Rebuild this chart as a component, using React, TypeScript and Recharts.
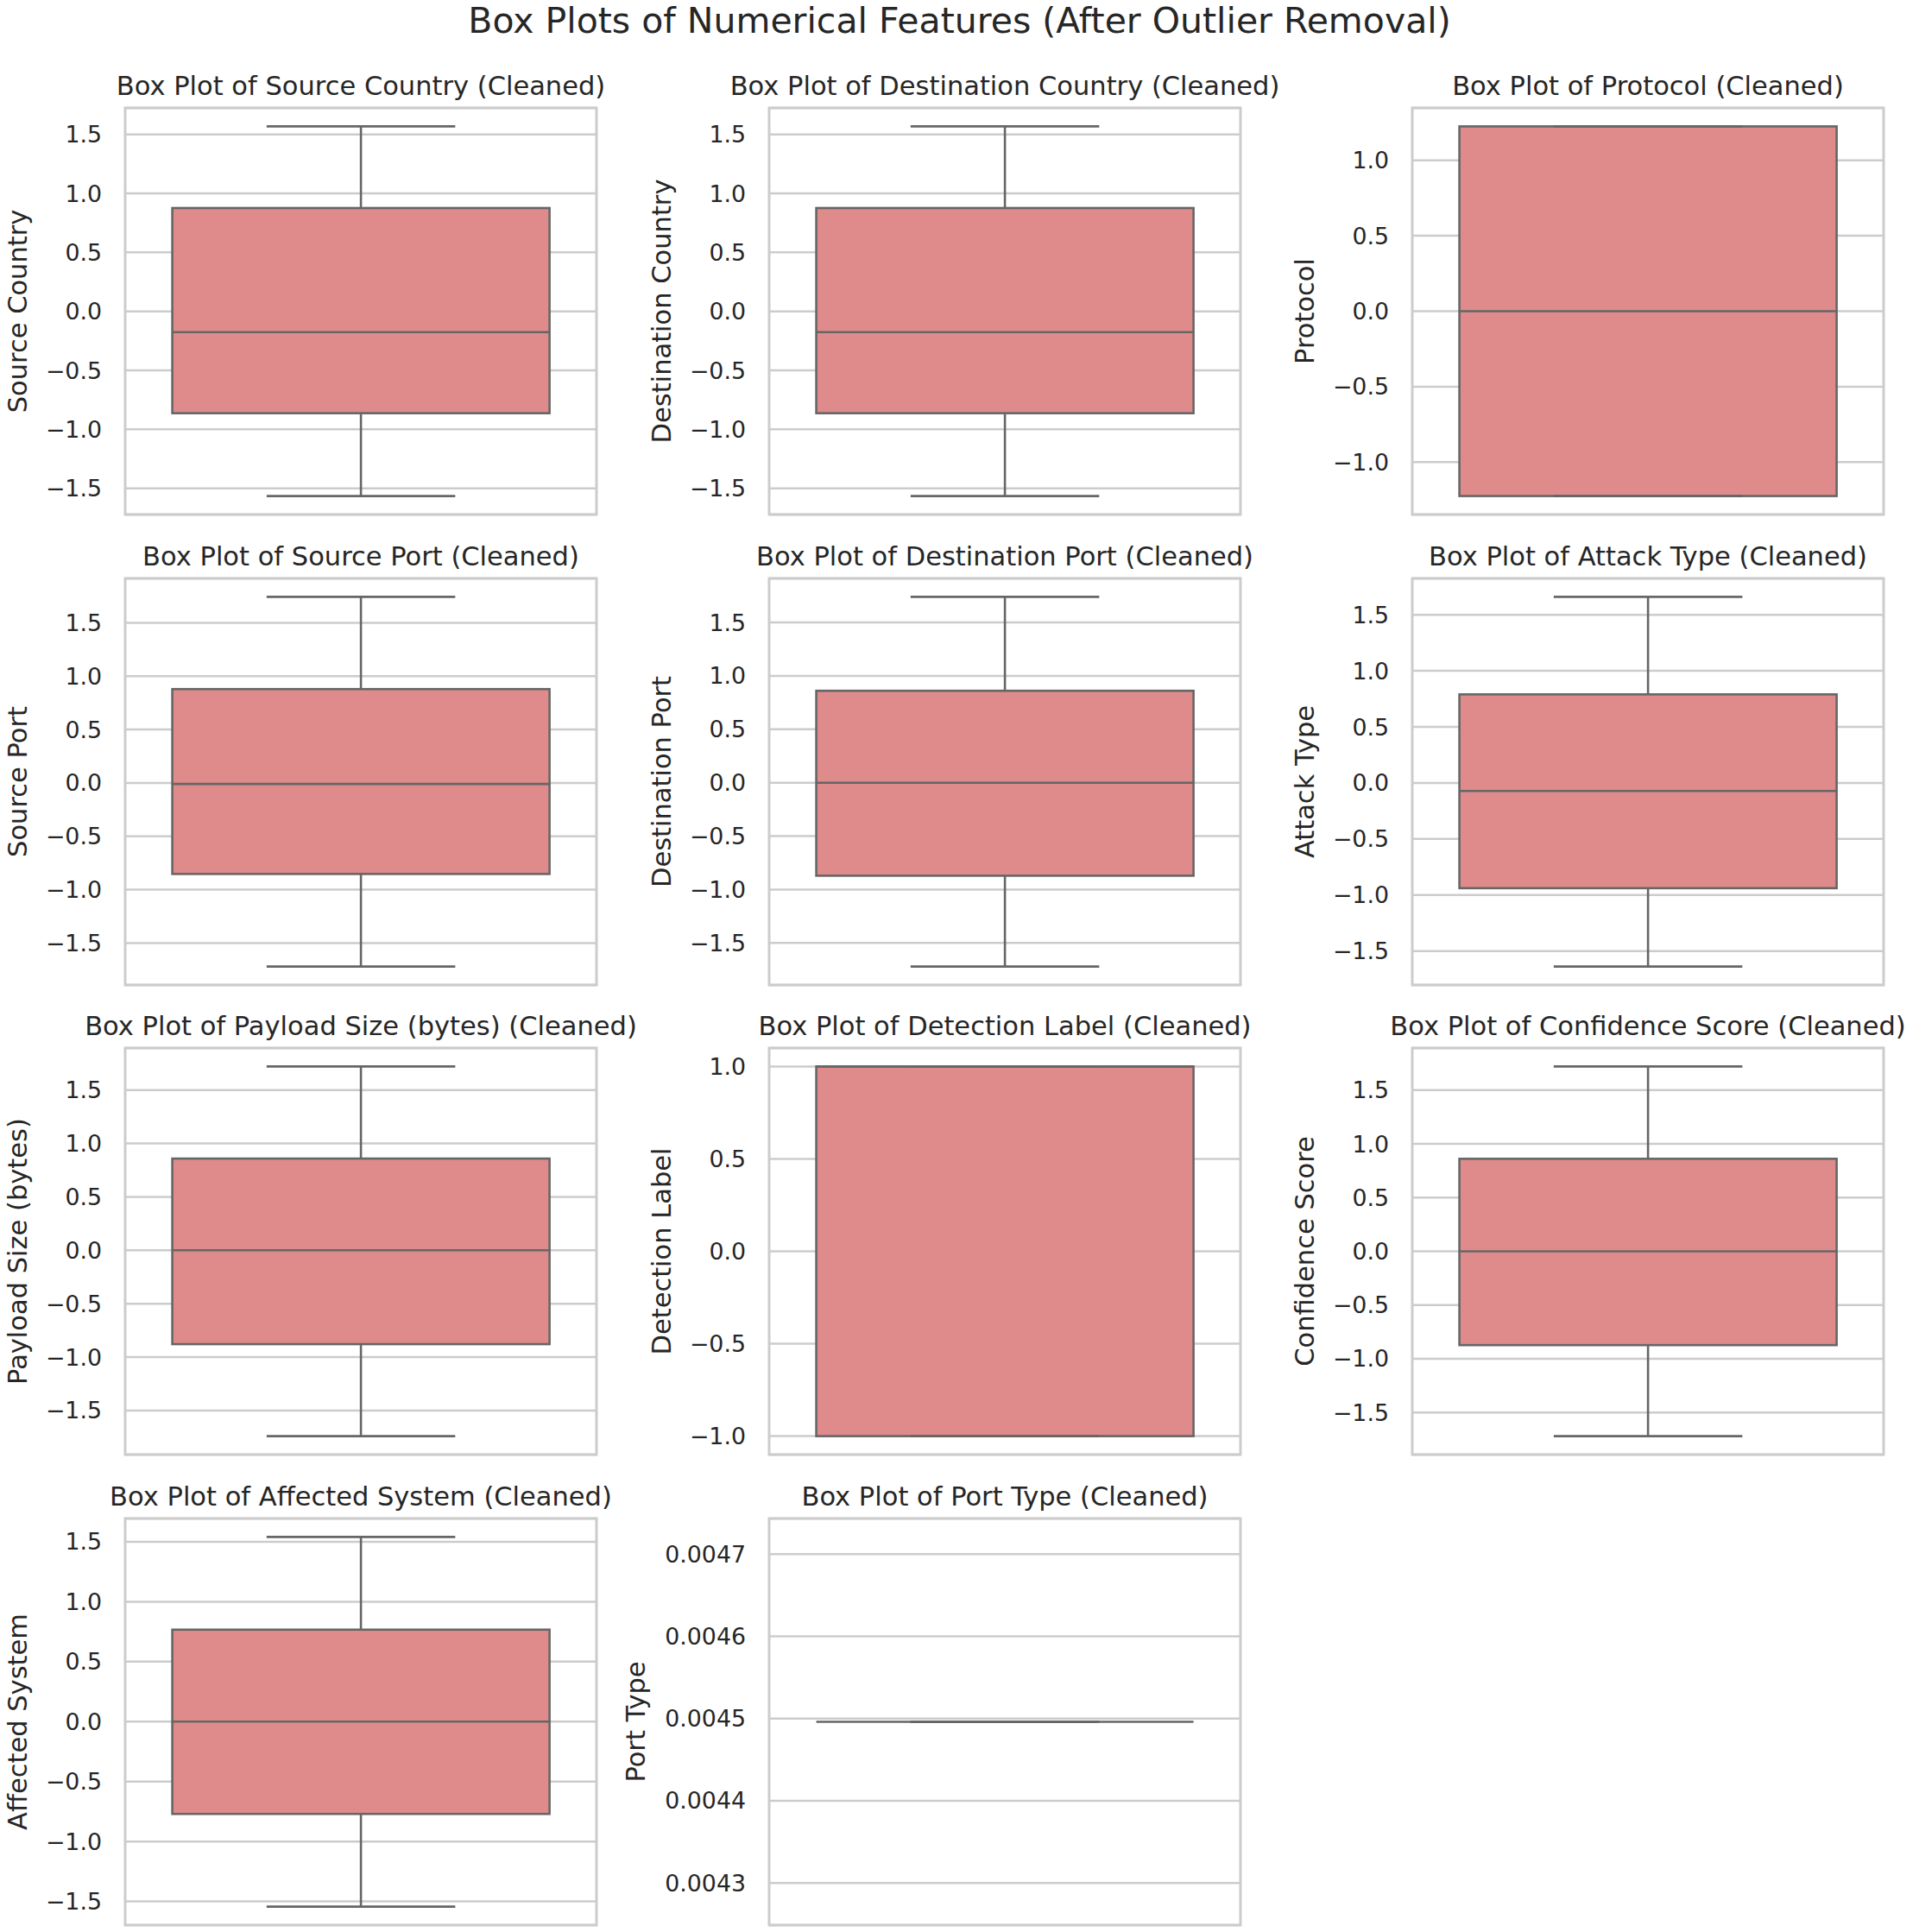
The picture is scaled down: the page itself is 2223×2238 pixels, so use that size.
import React from 'react';
import {
    ComposedChart,
    Bar,
    XAxis,
    YAxis,
    CartesianGrid,
    ReferenceArea
} from 'recharts';

// feature names, in subplot order (row by row, 3 per row)
const features = [
    'Source Country', 'Destination Country', 'Protocol',
    'Source Port', 'Destination Port', 'Attack Type',
    'Payload Size (bytes)', 'Detection Label', 'Confidence Score',
    'Affected System', 'Port Type'
];

// five-number summaries
const mins = [-1.565, -1.565, -1.2247, -1.72, -1.72, -1.638, -1.74, -1.0, -1.72, -1.543, 0.004496];
const q1s = [-0.863, -0.863, -1.2247, -0.853, -0.87, -0.939, -0.879, -1.0, -0.873, -0.77, 0.004496];
const medians = [-0.176, -0.176, 0.0, -0.01, 0.0, -0.072, 0.0, 1.0, 0.0, 0.0, 0.004496];
const q3s = [0.876, 0.876, 1.2247, 0.879, 0.861, 0.79, 0.858, 1.0, 0.861, 0.767, 0.004496];
const maxs = [1.568, 1.568, 1.2247, 1.743, 1.74, 1.66, 1.72, 1.0, 1.72, 1.54, 0.004496];

const ticks15 = [-1.5, -1.0, -0.5, 0.0, 0.5, 1.0, 1.5];
const ticks10 = [-1.0, -0.5, 0.0, 0.5, 1.0];
const ticksPort = [0.0043, 0.0044, 0.0045, 0.0046, 0.0047];
const tickSets = [
    ticks15, ticks15, ticks10,
    ticks15, ticks15, ticks15,
    ticks15, ticks10, ticks15,
    ticks15, ticksPort
];
const tickDecimals = [1, 1, 1, 1, 1, 1, 1, 1, 1, 1, 4];

// layout of the grid (px)
const COL_LEFT = [145, 891, 1636];
const ROW_TOP = [125, 670, 1214, 1759];
const FRAME_W = 546;
const FRAME_H = 471;
const AXIS_W = 180;
const PAD = 6;

const FONT = '"DejaVu Sans", "Liberation Sans", sans-serif';
const TEXT = '#262626';
const GRID = '#cccccc';
const BOX_FILL = '#e08b8b';
const BOX_LINE = '#666666';

// same rule matplotlib uses when autoscaling: 5% margins, widen a flat range
function autoDomain(lo: number, hi: number): [number, number] {
    let a = lo;
    let b = hi;
    if (b - a === 0) {
        a = lo - 0.05 * Math.abs(lo);
        b = hi + 0.05 * Math.abs(hi);
    }
    const m = (b - a) * 0.05;
    return [a - m, b + m];
}

const BoxShape = (props: any) => {
    const { x, y, width, height, payload } = props;
    const { min, q1, median, q3, max } = payload;
    const span = max - min;
    const py = (v: number) => (span > 0 ? y + ((max - v) / span) * height : y);
    const cx = x + width / 2;
    const capHalf = width / 4;
    const yTop = py(q3);
    const yBot = py(q1);
    return (
        <g>
            <line x1={cx} x2={cx} y1={py(max)} y2={yTop} stroke={BOX_LINE} strokeWidth={2.6} />
            <line x1={cx} x2={cx} y1={yBot} y2={py(min)} stroke={BOX_LINE} strokeWidth={2.6} />
            <rect
                x={x}
                y={yTop}
                width={width}
                height={Math.max(yBot - yTop, 0)}
                fill={BOX_FILL}
                stroke={BOX_LINE}
                strokeWidth={2.6}
            />
            <line x1={x} x2={x + width} y1={py(median)} y2={py(median)} stroke={BOX_LINE} strokeWidth={2.6} />
            <line x1={cx - capHalf} x2={cx + capHalf} y1={py(max)} y2={py(max)} stroke={BOX_LINE} strokeWidth={2.6} />
            <line x1={cx - capHalf} x2={cx + capHalf} y1={py(min)} y2={py(min)} stroke={BOX_LINE} strokeWidth={2.6} />
        </g>
    );
};

function fmtTick(v: number, d: number) {
    return v.toFixed(d).replace('-', '\u2212');
}

function SubPlot({ index }: { index: number }) {
    const row = Math.floor(index / 3);
    const col = index % 3;
    const left = COL_LEFT[col];
    const top = ROW_TOP[row];
    const domain = autoDomain(mins[index], maxs[index]);
    const labelGap = index === 10 ? 155 : 125;

    const data = [{
        name: features[index],
        range: [mins[index], maxs[index]],
        min: mins[index],
        q1: q1s[index],
        median: medians[index],
        q3: q3s[index],
        max: maxs[index]
    }];

    return (
        <>
            <div
                style={{
                    position: 'absolute',
                    left: left - 200,
                    width: FRAME_W + 400,
                    top: top - 40,
                    textAlign: 'center',
                    fontFamily: FONT,
                    fontSize: 30.5,
                    lineHeight: '30px',
                    color: TEXT,
                    whiteSpace: 'nowrap'
                }}
            >
                {`Box Plot of ${features[index]} (Cleaned)`}
            </div>
            <div style={{ position: 'absolute', left: left - AXIS_W, top: top - PAD }}>
                <ComposedChart
                    width={AXIS_W + FRAME_W + PAD}
                    height={FRAME_H + PAD * 2}
                    data={data}
                    margin={{ top: PAD, right: PAD, bottom: PAD, left: 0 }}
                    barCategoryGap="10%"
                >
                    <CartesianGrid vertical={false} stroke={GRID} strokeWidth={2.5} />
                    <XAxis dataKey="name" type="category" hide />
                    <YAxis
                        type="number"
                        domain={domain}
                        ticks={tickSets[index]}
                        interval={0}
                        allowDataOverflow
                        width={AXIS_W}
                        axisLine={false}
                        tickLine={false}
                        tickSize={6}
                        tickMargin={21}
                        tickFormatter={(v: number) => fmtTick(v, tickDecimals[index])}
                        tick={{ fill: TEXT, fontSize: 26.8, fontFamily: FONT }}
                        label={{
                            content: (p: any) => {
                                const vb = p.viewBox || {};
                                const tx = vb.x + vb.width - labelGap;
                                const ty = vb.y + vb.height / 2;
                                return (
                                    <text
                                        x={tx}
                                        y={ty}
                                        transform={`rotate(-90 ${tx} ${ty})`}
                                        textAnchor="middle"
                                        dominantBaseline="central"
                                        fill={TEXT}
                                        fontSize={30.5}
                                        fontFamily={FONT}
                                    >
                                        {features[index]}
                                    </text>
                                );
                            }
                        }}
                    />
                    <ReferenceArea
                        y1={domain[0]}
                        y2={domain[1]}
                        fill="none"
                        fillOpacity={0}
                        stroke={GRID}
                        strokeWidth={3}
                        ifOverflow="visible"
                    />
                    <Bar dataKey="range" shape={BoxShape} isAnimationActive={false} />
                </ComposedChart>
            </div>
        </>
    );
}

export default function App() {
    return (
        <div
            style={{
                position: 'absolute',
                left: 0,
                top: 0,
                width: 2223,
                height: 2238,
                background: '#ffffff',
                overflow: 'hidden'
            }}
        >
            <div
                style={{
                    position: 'absolute',
                    left: 0,
                    width: 2223,
                    top: 4,
                    textAlign: 'center',
                    fontFamily: FONT,
                    fontSize: 41,
                    lineHeight: '40px',
                    color: TEXT
                }}
            >
                Box Plots of Numerical Features (After Outlier Removal)
            </div>
            {features.map((f, i) => (
                <SubPlot key={f} index={i} />
            ))}
        </div>
    );
}
